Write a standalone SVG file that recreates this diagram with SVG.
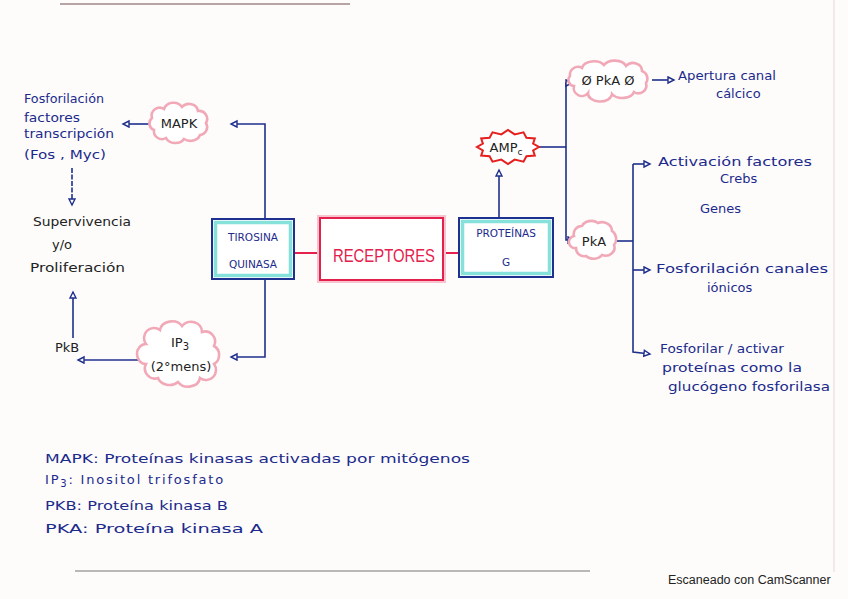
<svg xmlns="http://www.w3.org/2000/svg" width="848" height="599" viewBox="0 0 848 599">
<defs>
<marker id="arr" markerUnits="userSpaceOnUse" markerWidth="10" markerHeight="10" refX="7" refY="4" orient="auto">
<path d="M1,1 L7,4 L1,7 z" fill="#ffffff" stroke="#1f2f8c" stroke-width="1.4"/>
</marker>
<style>
.bl{fill:none;stroke:#1f2f8c;stroke-width:1.6}
.rd{fill:none;stroke:#e5204c;stroke-width:2}
.cloud{fill:#ffffff;stroke:#f1a9b8;stroke-width:2.6}
.box{fill:#ffffff;stroke:#1f3190;stroke-width:2}
.cyan{fill:none;stroke:#72dcd5;stroke-width:3.5;opacity:0.85}
.hw{font-family:"DejaVu Sans","Liberation Sans",sans-serif;fill:#1c2a8c;font-size:13px}
.bk{font-family:"DejaVu Sans","Liberation Sans",sans-serif;fill:#222222;font-size:13px}
.bt{font-family:"DejaVu Sans","Liberation Sans",sans-serif;fill:#1c2a8c;font-size:10.5px;text-anchor:middle}
</style>
</defs>
<rect width="848" height="599" fill="#fdfcfb"/>
<line x1="60" y1="4" x2="350" y2="4" stroke="#8a6b6b" stroke-width="2" opacity="0.6"/>
<line x1="75" y1="571" x2="590" y2="571" stroke="#666" stroke-width="1.5" opacity="0.6"/>
<line x1="834" y1="0" x2="834" y2="572" stroke="#efe3e3" stroke-width="1.5"/>

<g id="connectors">
<line class="rd" x1="294" y1="253" x2="320" y2="253"/>
<line class="rd" x1="443" y1="253" x2="459" y2="253"/>
<polyline class="bl" points="265,219 265,124 231,124" marker-end="url(#arr)"/>
<line class="bl" x1="150" y1="124" x2="123" y2="124" marker-end="url(#arr)"/>
<line class="bl" x1="72" y1="168" x2="72" y2="205" stroke-dasharray="5,1.5" stroke-width="1.3" marker-end="url(#arr)"/>
<line class="bl" x1="73" y1="338" x2="73" y2="292" marker-end="url(#arr)"/>
<polyline class="bl" points="265,279 265,357 231,357" marker-end="url(#arr)"/>
<line class="bl" x1="145" y1="360" x2="78" y2="360" marker-end="url(#arr)"/>
<line class="bl" x1="499" y1="218" x2="499" y2="170" marker-end="url(#arr)"/>
<line class="bl" x1="538" y1="147" x2="566" y2="147"/>
<polyline class="bl" points="566,147 566,83 572,83" marker-end="url(#arr)"/>
<polyline class="bl" points="566,147 566,240 574,240" marker-end="url(#arr)"/>
<line class="bl" x1="652" y1="80" x2="674" y2="80" marker-end="url(#arr)"/>
<line class="bl" x1="615" y1="241" x2="633" y2="241"/>
<polyline class="bl" points="633,164 633,352 650,354" marker-end="url(#arr)"/>
<line class="bl" x1="633" y1="164" x2="650" y2="164" marker-end="url(#arr)"/>
<line class="bl" x1="633" y1="270" x2="650" y2="270" marker-end="url(#arr)"/>
</g>

<g id="tirosina-quinasa">
<rect class="box" x="212" y="219" width="82" height="60"/>
<rect class="cyan" x="215.5" y="222.5" width="75" height="53"/>
<text class="bt" x="253" y="241">TIROSINA</text>
<text class="bt" x="253" y="268">QUINASA</text>
</g>

<g id="receptores">
<rect x="320" y="218" width="123" height="62" fill="none" stroke="#f7c3cf" stroke-width="6"/>
<rect x="320" y="218" width="123" height="62" fill="#ffffff" stroke="#e5204c" stroke-width="2"/>
<text x="384" y="262" font-family="Liberation Sans Narrow,Liberation Sans,sans-serif" font-size="19" fill="#e5204c" text-anchor="middle" textLength="102" lengthAdjust="spacingAndGlyphs">RECEPTORES</text>
</g>

<g id="proteinas-g">
<rect class="box" x="459" y="218" width="94" height="59"/>
<rect class="cyan" x="462.5" y="221.5" width="87" height="52"/>
<text class="bt" x="506" y="237">PROTEÍNAS</text>
<text class="bt" x="506" y="266" font-size="12">G</text>
</g>

<g id="mapk">
<path class="cloud" d="M152,118 a8,8 0 0 1 12,-9 a10,9 0 0 1 18,-2 a9,8 0 0 1 16,4 a8,8 0 0 1 8,12 a8,8 0 0 1 -6,12 a10,8 0 0 1 -16,4 a10,8 0 0 1 -18,-1 a8,8 0 0 1 -12,-8 a7,7 0 0 1 -2,-12 z"/>
<text class="bk" x="179" y="128" font-size="12" text-anchor="middle">MAPK</text>
</g>

<g id="ip3">
<path class="cloud" d="M146,344 a10,10 0 0 1 14,-14 a12,10 0 0 1 22,-4 a11,10 0 0 1 20,6 a10,10 0 0 1 12,14 a9,10 0 0 1 0,18 a10,10 0 0 1 -14,14 a12,10 0 0 1 -22,4 a12,10 0 0 1 -20,-4 a10,10 0 0 1 -12,-14 a9,10 0 0 1 0,-20 z"/>
<text class="bk" x="180" y="347" text-anchor="middle">IP<tspan font-size="10" dy="3">3</tspan></text>
<text class="bk" x="181" y="371" font-size="11" text-anchor="middle">(2°mens)</text>
</g>

<g id="ampc">
<polygon points="539,147 533.1,150.4 534.8,155.5 526.4,156.2 523.5,161.7 514.7,159.6 508,164 501.3,159.6 492.5,161.7 489.6,156.2 481.2,155.5 482.9,150.4 477,147 482.9,143.6 481.2,138.5 489.6,137.8 492.5,132.3 501.3,134.4 508,130 514.7,134.4 523.5,132.3 526.4,137.8 534.8,138.5 533.1,143.6" fill="#ffffff" stroke="#e5201f" stroke-width="2"/>
<text class="bk" x="506" y="152" text-anchor="middle">AMP<tspan font-size="9" dy="3">c</tspan></text>
</g>

<g id="pka-top">
<path class="cloud" d="M570,76 a8,8 0 0 1 12,-8 a12,8 0 0 1 22,-3 a12,8 0 0 1 22,1 a9,8 0 0 1 16,5 a8,8 0 0 1 4,12 a8,8 0 0 1 -12,9 a12,8 0 0 1 -22,2 a12,8 0 0 1 -24,-1 a8,8 0 0 1 -14,-7 a6,6 0 0 1 -4,-10 z"/>
<text class="bk" x="608" y="85" font-size="14" text-anchor="middle">Ø PkA Ø</text>
</g>

<g id="pka">
<path class="cloud" d="M574,236 a8,8 0 0 1 8,-10 a10,8 0 0 1 16,-3 a10,9 0 0 1 14,8 a8,9 0 0 1 2,14 a9,8 0 0 1 -12,10 a10,8 0 0 1 -16,1 a8,8 0 0 1 -10,-8 a6,6 0 0 1 -2,-12 z"/>
<text class="bk" x="594" y="246" text-anchor="middle">PkA</text>
</g>

<g id="fosforilacion-factores">
<text class="hw" x="24" y="103" textLength="80" lengthAdjust="spacingAndGlyphs">Fosforilación</text>
<text class="hw" x="24" y="122" textLength="56" lengthAdjust="spacingAndGlyphs">factores</text>
<text class="hw" x="24" y="138" textLength="90" lengthAdjust="spacingAndGlyphs">transcripción</text>
<text class="hw" x="24" y="159" textLength="82" lengthAdjust="spacingAndGlyphs">(Fos , Myc)</text>
</g>

<g id="supervivencia">
<text class="bk" x="33" y="226" textLength="98" lengthAdjust="spacingAndGlyphs">Supervivencia</text>
<text class="bk" x="52" y="249">y/o</text>
<text class="bk" x="30" y="272" textLength="95" lengthAdjust="spacingAndGlyphs">Proliferación</text>
</g>

<g id="pkb">
<text class="bk" x="55" y="352">PkB</text>
</g>

<g id="apertura">
<text class="hw" x="678" y="80" textLength="98" lengthAdjust="spacingAndGlyphs">Apertura canal</text>
<text class="hw" x="716" y="98">cálcico</text>
</g>

<g id="activacion">
<text class="hw" x="658" y="166" textLength="154" lengthAdjust="spacingAndGlyphs">Activación factores</text>
<text class="hw" x="720" y="183">Crebs</text>
<text class="hw" x="700" y="213">Genes</text>
</g>

<g id="fosforilacion-canales">
<text class="hw" x="656" y="273" textLength="172" lengthAdjust="spacingAndGlyphs">Fosforilación canales</text>
<text class="hw" x="707" y="292">iónicos</text>
</g>

<g id="fosforilar-activar">
<text class="hw" x="660" y="353" textLength="124" lengthAdjust="spacingAndGlyphs">Fosforilar / activar</text>
<text class="hw" x="662" y="372" textLength="140" lengthAdjust="spacingAndGlyphs">proteínas como la</text>
<text class="hw" x="668" y="391" textLength="162" lengthAdjust="spacingAndGlyphs">glucógeno fosforilasa</text>
</g>

<g id="legend">
<text class="hw" x="45" y="463" font-size="14" textLength="425" lengthAdjust="spacingAndGlyphs">MAPK: Proteínas kinasas activadas por mitógenos</text>
<text class="hw" x="45" y="484" font-size="14" letter-spacing="1.8">IP<tspan font-size="10" dy="3">3</tspan><tspan dy="-3">: Inositol trifosfato</tspan></text>
<text class="hw" x="45" y="510" font-size="14" textLength="183" lengthAdjust="spacingAndGlyphs">PKB: Proteína kinasa B</text>
<text class="hw" x="45" y="533" font-size="14" textLength="218" lengthAdjust="spacingAndGlyphs">PKA: Proteína kinasa A</text>
</g>

<text x="668" y="584" font-family="Liberation Sans,Arial,sans-serif" font-size="12.5" fill="#222222">Escaneado con CamScanner</text>
</svg>
